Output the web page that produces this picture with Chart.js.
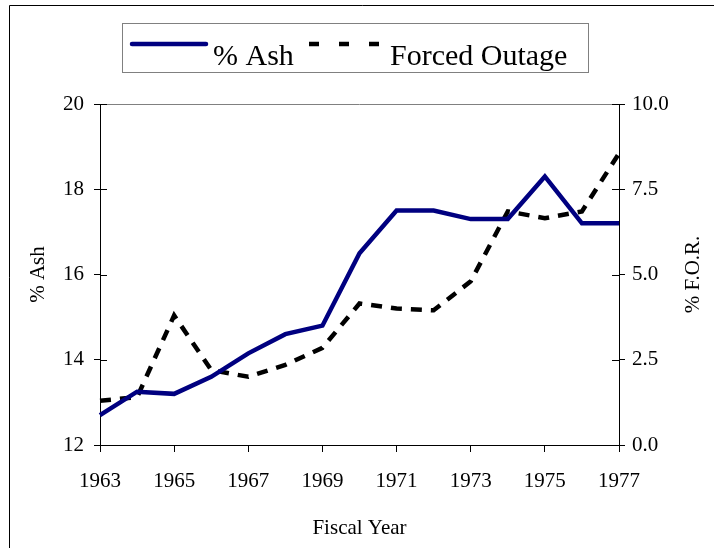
<!DOCTYPE html>
<html>
<head>
<meta charset="utf-8">
<script src="https://cdn.jsdelivr.net/npm/chart.js@4/dist/chart.umd.min.js"></script>
<style>
  html, body { margin: 0; padding: 0; background: #ffffff; }
  #wrap { width: 714px; height: 548px; position: relative; }
</style>
</head>
<body>
<div id="wrap"><canvas id="c" width="714" height="548"></canvas></div>
<script>
const years = ['1963','1964','1965','1966','1967','1968','1969','1970','1971','1972','1973','1974','1975','1976','1977'];
const ashValues = [12.7, 13.25, 13.2, 13.6, 14.15, 14.6, 14.8, 16.5, 17.5, 17.5, 17.3, 17.3, 18.3, 17.2, 17.2];
const forcedOutageValues = [1.3, 1.4, 3.8, 2.2, 2.0, 2.35, 2.85, 4.15, 4.0, 3.95, 4.8, 6.85, 6.65, 6.85, 8.55];
const ashAxisRange = [12, 20];
const forAxisRange = [0, 10];
const seriesNames = ['% Ash', 'Forced Outage'];
const axisTitles = { x: 'Fiscal Year', y: '% Ash', y1: '% F.O.R.' };

const SERIF = "'Times New Roman', 'Liberation Serif', serif";
const ASH_COLOR = '#000080';

const decorPlugin = {
  id: 'decor',
  beforeDraw(chart) {
    const ctx = chart.ctx;
    ctx.save();
    ctx.fillStyle = '#ffffff';
    ctx.fillRect(0, 0, chart.width, chart.height);
    ctx.restore();
  },
  afterDraw(chart) {
    const ctx = chart.ctx;
    const a = chart.chartArea;
    ctx.save();
    // outer frame
    ctx.strokeStyle = '#000000';
    ctx.lineWidth = 1;
    ctx.beginPath();
    ctx.moveTo(9.5, chart.height + 2);
    ctx.lineTo(9.5, 5.5);
    ctx.lineTo(chart.width + 2, 5.5);
    ctx.stroke();
    // top border of plot
    ctx.strokeStyle = '#808080';
    ctx.beginPath();
    ctx.moveTo(a.left, Math.round(a.top) + 0.5);
    ctx.lineTo(a.right, Math.round(a.top) + 0.5);
    ctx.stroke();
    // inner halves of y ticks
    ctx.strokeStyle = '#000000';
    const ys = chart.scales.y, y1 = chart.scales.y1;
    ys.ticks.forEach((t, i) => {
      const p = Math.round(ys.getPixelForTick(i)) + 0.5;
      ctx.beginPath(); ctx.moveTo(a.left, p); ctx.lineTo(a.left + 7, p); ctx.stroke();
    });
    y1.ticks.forEach((t, i) => {
      const p = Math.round(y1.getPixelForTick(i)) + 0.5;
      ctx.beginPath(); ctx.moveTo(a.right, p); ctx.lineTo(a.right - 7, p); ctx.stroke();
    });
    // right axis title, reading bottom-to-top
    ctx.fillStyle = '#000000';
    ctx.font = '21px ' + SERIF;
    ctx.textAlign = 'center';
    ctx.textBaseline = 'middle';
    ctx.translate(693, (a.top + a.bottom) / 2);
    ctx.rotate(-Math.PI / 2);
    ctx.fillText(axisTitles.y1, 0, 0);
    ctx.restore();

    // legend
    ctx.save();
    ctx.strokeStyle = '#808080';
    ctx.lineWidth = 1;
    ctx.strokeRect(122.5, 23.5, 466, 49);
    const ly = 44;
    ctx.strokeStyle = ASH_COLOR;
    ctx.lineWidth = 4.5;
    ctx.lineCap = 'round';
    ctx.beginPath(); ctx.moveTo(132, ly); ctx.lineTo(206, ly); ctx.stroke();
    ctx.strokeStyle = '#000000';
    ctx.lineCap = 'butt';
    ctx.setLineDash([10, 20]);
    ctx.beginPath(); ctx.moveTo(309, ly); ctx.lineTo(381, ly); ctx.stroke();
    ctx.setLineDash([]);
    ctx.fillStyle = '#000000';
    ctx.font = '30px ' + SERIF;
    ctx.textAlign = 'left';
    ctx.textBaseline = 'alphabetic';
    ctx.fillText(seriesNames[0], 213, 65);
    ctx.fillText(seriesNames[1], 390, 65);
    ctx.restore();
  }
};

new Chart(document.getElementById('c'), {
  type: 'line',
  data: {
    labels: years,
    datasets: [
      {
        label: seriesNames[0],
        data: ashValues,
        yAxisID: 'y',
        borderColor: ASH_COLOR,
        backgroundColor: ASH_COLOR,
        borderWidth: 4.5,
        pointRadius: 0,
        tension: 0,
        borderJoinStyle: 'miter',
        order: 1
      },
      {
        label: seriesNames[1],
        data: forcedOutageValues,
        yAxisID: 'y1',
        borderColor: '#000000',
        backgroundColor: '#000000',
        borderWidth: 4.5,
        borderDash: [11, 9],
        pointRadius: 0,
        tension: 0,
        order: 2
      }
    ]
  },
  options: {
    responsive: false,
    animation: false,
    devicePixelRatio: 1,
    layout: { padding: { top: 104, left: 0, right: 0, bottom: 0 } },
    plugins: {
      legend: { display: false },
      tooltip: { enabled: false }
    },
    scales: {
      x: {
        type: 'category',
        offset: false,
        grid: {
          drawOnChartArea: false,
          tickLength: 7,
          tickColor: (c) => (c.index % 2 === 0 ? '#000000' : 'rgba(0,0,0,0)')
        },
        border: { color: '#000000', width: 1 },
        ticks: {
          autoSkip: false,
          maxRotation: 0,
          padding: 17,
          color: '#000000',
          font: { family: SERIF, size: 21 },
          callback: function(v, i) { return i % 2 === 0 ? this.getLabelForValue(v) : ''; }
        },
        title: {
          display: true,
          text: axisTitles.x,
          color: '#000000',
          font: { family: SERIF, size: 21 },
          padding: { top: 0, bottom: 7 }
        },
        afterFit: (s) => { s.height = 103; }
      },
      y: {
        position: 'left',
        min: ashAxisRange[0],
        max: ashAxisRange[1],
        ticks: {
          stepSize: 2,
          padding: 10,
          color: '#000000',
          font: { family: SERIF, size: 21 }
        },
        grid: { drawOnChartArea: false, tickLength: 6, tickColor: '#000000' },
        border: { color: '#000000', width: 1 },
        title: {
          display: true,
          text: axisTitles.y,
          color: '#000000',
          font: { family: SERIF, size: 21 },
          padding: { top: 26, bottom: 0 }
        },
        afterFit: (s) => { s.width = 100; }
      },
      y1: {
        position: 'right',
        min: forAxisRange[0],
        max: forAxisRange[1],
        ticks: {
          stepSize: 2.5,
          padding: 7,
          color: '#000000',
          font: { family: SERIF, size: 21 },
          callback: (v) => Number(v).toFixed(1)
        },
        grid: { drawOnChartArea: false, tickLength: 6, tickColor: '#000000' },
        border: { color: '#000000', width: 1 },
        afterFit: (s) => { s.width = 95; }
      }
    }
  },
  plugins: [decorPlugin]
});
</script>
</body>
</html>
